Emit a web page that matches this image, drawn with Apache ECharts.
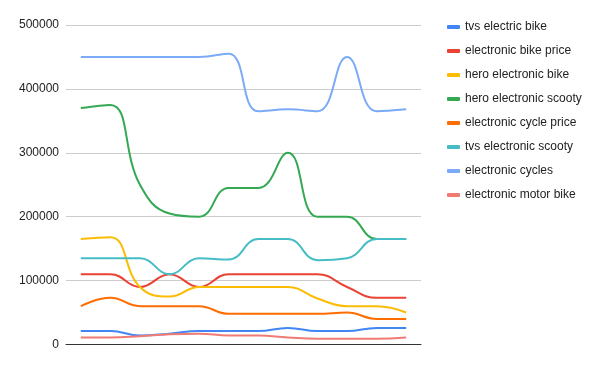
<!DOCTYPE html>
<html>
<head>
<meta charset="utf-8">
<script src="https://cdn.jsdelivr.net/npm/echarts@6/dist/echarts.min.js"></script>
<style>html,body{margin:0;padding:0;background:#fff;}#chart{width:600px;height:371px;}</style>
</head>
<body>
<div id="chart"></div>
<script>
var categories = ['1','2','3','4','5','6','7','8','9','10','11','12'];
var seriesNames = ['tvs electric bike','electronic bike price','hero electronic bike','hero electronic scooty','electronic cycle price','tvs electronic scooty','electronic cycles','electronic motor bike'];
var tvsElectricBike = [21000, 21000, 14000, 17000, 21000, 21000, 21000, 26000, 21000, 21000, 26000, 26000];
var electronicBikePrice = [110000, 110000, 90000, 110000, 90000, 110000, 110000, 110000, 110000, 90000, 73000, 73000];
var heroElectronicBike = [165000, 168000, 90000, 75000, 90000, 90000, 90000, 90000, 72000, 60000, 60000, 50000];
var heroElectronicScooty = [370000, 375000, 250000, 205000, 200000, 245000, 245000, 300000, 200000, 200000, 165000, 165000];
var electronicCyclePrice = [60000, 73000, 60000, 60000, 60000, 48000, 48000, 48000, 48000, 50000, 40000, 40000];
var tvsElectronicScooty = [135000, 135000, 135000, 110000, 135000, 133000, 165000, 165000, 132000, 135000, 165000, 165000];
var electronicCycles = [450000, 450000, 450000, 450000, 450000, 455000, 365000, 368000, 365000, 450000, 365000, 368000];
var electronicMotorBike = [11000, 11000, 13000, 16000, 17000, 14000, 14000, 11000, 9000, 9000, 9000, 11000];
var yTicks = [0, 100000, 200000, 300000, 400000, 500000];

var colors = ['#4285F4','#EA4335','#FBBC04','#34A853','#FF6D01','#46BDC6','#7BAAF7','#F07B72'];
var allData = [tvsElectricBike, electronicBikePrice, heroElectronicBike, heroElectronicScooty, electronicCyclePrice, tvsElectronicScooty, electronicCycles, electronicMotorBike];

var chart = echarts.init(document.getElementById('chart'));
chart.setOption({
  animation: false,
  color: colors,
  textStyle: {fontFamily: 'Arial, "Liberation Sans", sans-serif'},
  grid: {left: 66, right: 179, top: 25, bottom: 26.5, containLabel: false},
  legend: {
    orient: 'vertical', left: 442, top: 16,
    itemWidth: 13, itemHeight: 4, itemGap: 12,
    icon: 'roundRect',
    textStyle: {fontSize: 12, color: '#222', lineHeight: 12, fontFamily: 'Arial, "Liberation Sans", sans-serif'},
    data: seriesNames
  },
  xAxis: {
    type: 'category', data: categories, boundaryGap: true,
    axisLabel: {show: false}, axisTick: {show: false},
    axisLine: {lineStyle: {color: '#333', width: 1}}
  },
  yAxis: {
    type: 'value', min: yTicks[0], max: yTicks[yTicks.length-1], interval: 100000,
    axisLine: {show: false}, axisTick: {show: false},
    axisLabel: {fontSize: 12, color: '#222', margin: 7, formatter: function(v){ return String(v); }},
    splitLine: {lineStyle: {color: '#ccc', width: 1}}
  },
  series: seriesNames.map(function(n, i){
    return {name: n, type: 'line', data: allData[i], smooth: 0.45, showSymbol: false, symbol: 'none', lineStyle: {width: 2}};
  })
});
</script>
</body>
</html>
